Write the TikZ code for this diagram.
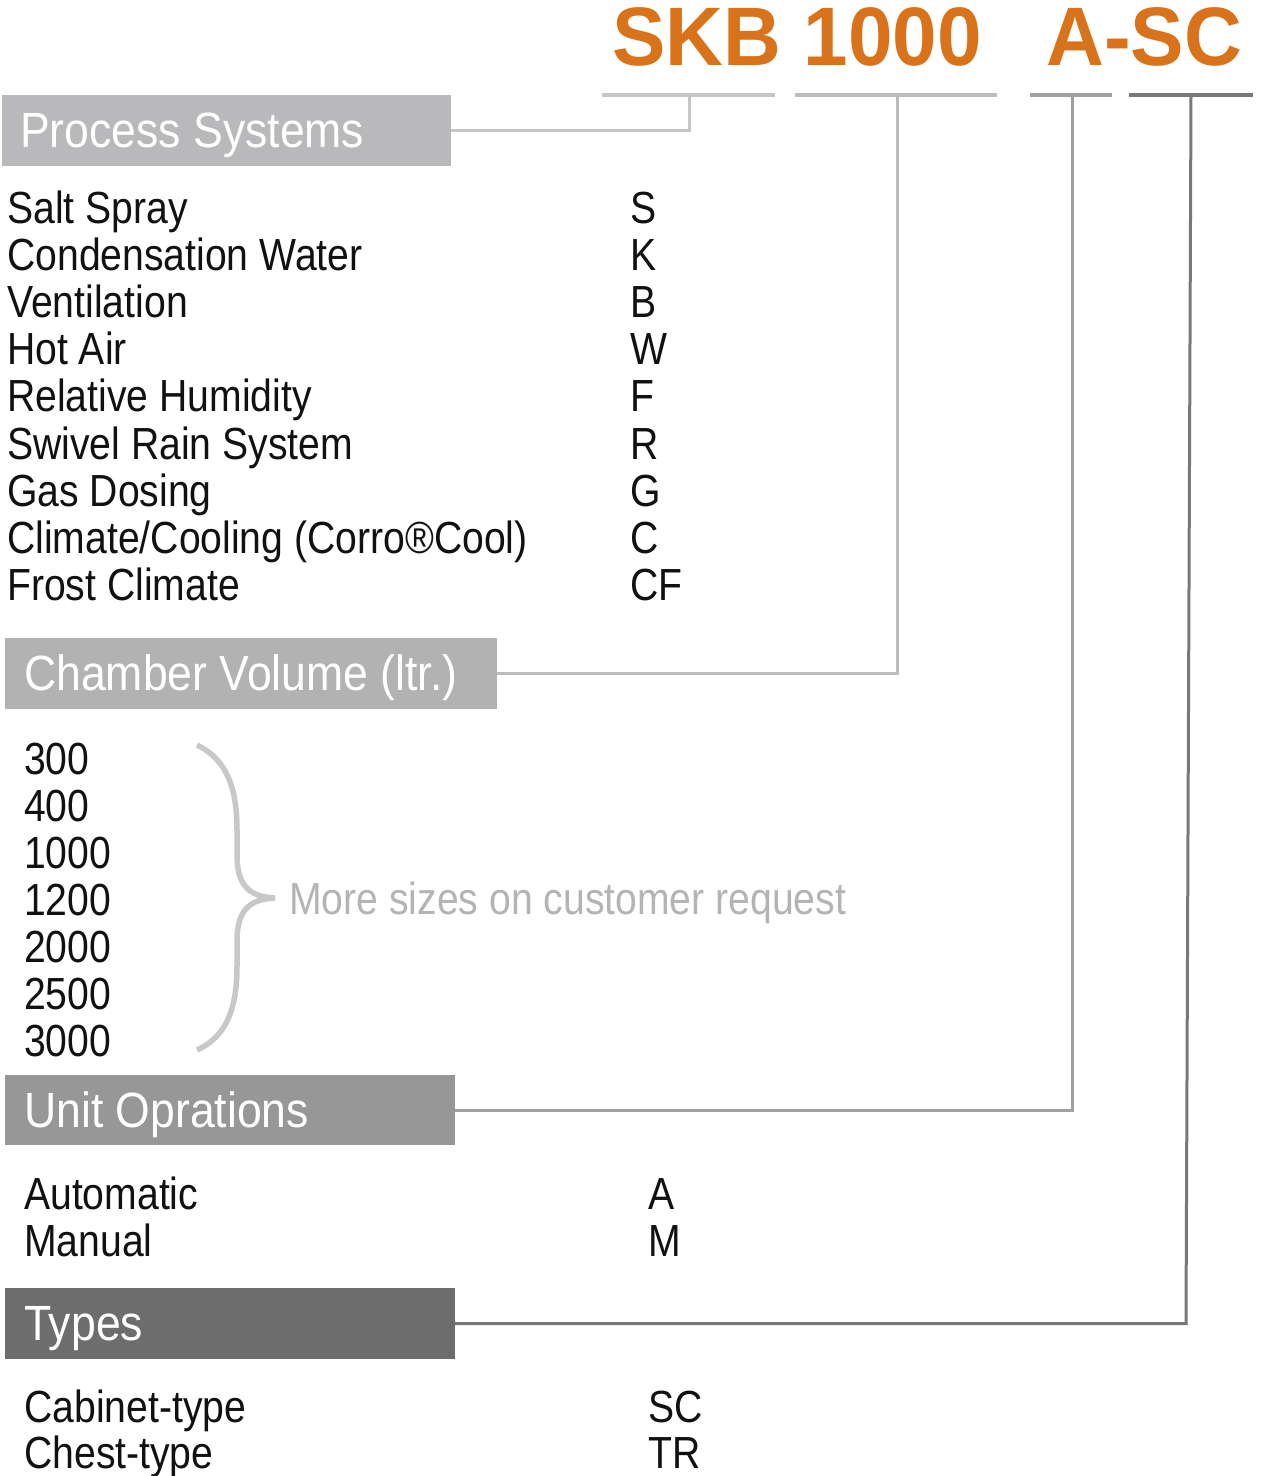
\documentclass[tikz,border=0pt]{standalone}
\usepackage{fontspec}
\setmainfont{Liberation Sans}[FakeStretch=0.87]
\newfontfamily\headfont{Liberation Sans}[FakeStretch=0.965]
\newfontfamily\boxfont{Liberation Sans}[FakeStretch=0.9]
\definecolor{skborange}{HTML}{D9731B}
\definecolor{boxa}{HTML}{B9B9BB}
\definecolor{boxb}{HTML}{B2B2B2}
\definecolor{boxc}{HTML}{979797}
\definecolor{boxd}{HTML}{6D6D6D}
\definecolor{linea}{HTML}{C6C6C6}
\definecolor{lineb}{HTML}{BCBCBC}
\definecolor{linec}{HTML}{A0A0A0}
\definecolor{lined}{HTML}{787878}
\definecolor{bracecol}{HTML}{C8C8C8}
\definecolor{notecol}{HTML}{B4B4B4}
\definecolor{txt}{HTML}{111111}
\tikzset{
  hbox/.style={anchor=north west, inner sep=0pt, outer sep=0pt},
  htext/.style={anchor=base west, inner sep=0pt, text=white, font=\boxfont\fontsize{49.5}{55}\selectfont},
  item/.style={anchor=base west, inner sep=0pt, text=txt, font=\fontsize{45}{50}\selectfont},
  title/.style={anchor=base west, inner sep=0pt, text=skborange, font=\headfont\bfseries\fontsize{83}{86}\selectfont},
  bar/.style={line width=4pt},
  conn/.style={line width=3pt},
}
\begin{document}
\begin{tikzpicture}[x=1pt,y=-1pt]
\useasboundingbox (0,0) rectangle (1270,1476);
% title
\node[title] (t1) at (612,65) {SKB 1000};
\node[title] (t2) at (1046,65) {A-SC};
% bars
\coordinate (b1l) at (602,95); \coordinate (b1r) at (775,95); \coordinate (b1) at (689,95);
\coordinate (b2l) at (795,95); \coordinate (b2r) at (997,95); \coordinate (b2) at (897,95);
\coordinate (b3l) at (1030,95); \coordinate (b3r) at (1112,95); \coordinate (b3) at (1072,95);
\coordinate (b4l) at (1129,95); \coordinate (b4r) at (1253,95); \coordinate (b4) at (1191,95);
\draw[bar, linea] (b1l) -- (b1r);
\draw[bar, lineb] (b2l) -- (b2r);
\draw[bar, linec] (b3l) -- (b3r);
\draw[bar, lined] (b4l) -- (b4r);
% boxes
\node[hbox, fill=boxa, minimum width=449pt, minimum height=71pt] (ps) at (2,95) {};
\node[htext] (pst) at (20,147) {Process Systems};
\node[hbox, fill=boxb, minimum width=492pt, minimum height=71pt] (cv) at (5,638) {};
\node[htext] (cvt) at (24,690) {Chamber Volume (ltr.)};
\node[hbox, fill=boxc, minimum width=450pt, minimum height=70pt] (uo) at (5,1075) {};
\node[htext] (uot) at (24,1127) {Unit Oprations};
\node[hbox, fill=boxd, minimum width=450pt, minimum height=71pt] (ty) at (5,1288) {};
\node[htext] (tyt) at (24,1340) {Types};
% connectors
\draw[conn, linea] (ps.east) -| (b1);
\draw[conn, lineb] (cv.east) -| (b2);
\draw[conn, linec] (uo.east) -| (b3);
\coordinate (c4) at (1186,1323.5);
\draw[conn, lined] (ty.east) -- (c4) -- (b4);
% process list
\node[item] (p1) at (7,223) {Salt Spray};
\node[item] (p2) at (7,270.2) {Condensation Water};
\node[item] (p3) at (7,317.4) {Ventilation};
\node[item] (p4) at (7,364.6) {Hot Air};
\node[item] (p5) at (7,411.8) {Relative Humidity};
\node[item] (p6) at (7,459) {Swivel Rain System};
\node[item] (p7) at (7,506.2) {Gas Dosing};
\node[item] (p8) at (7,553.4) {Climate/Cooling (Corro®Cool)};
\node[item] (p9) at (7,600.6) {Frost Climate};
\node[item] (q1) at (630,223) {S};
\node[item] (q2) at (630,270.2) {K};
\node[item] (q3) at (630,317.4) {B};
\node[item] (q4) at (630,364.6) {W};
\node[item] (q5) at (630,411.8) {F};
\node[item] (q6) at (630,459) {R};
\node[item] (q7) at (630,506.2) {G};
\node[item] (q8) at (630,553.4) {C};
\node[item] (q9) at (630,600.6) {CF};
% volumes
\node[item] (v1) at (24,774) {300};
\node[item] (v2) at (24,821) {400};
\node[item] (v3) at (24,868) {1000};
\node[item] (v4) at (24,915) {1200};
\node[item] (v5) at (24,962) {2000};
\node[item] (v6) at (24,1009) {2500};
\node[item] (v7) at (24,1056) {3000};
\draw[line width=5.5pt, bracecol] (197,745) .. controls (228,760) and (237,790) .. (237,830) -- (237,855) .. controls (237,884) and (248,897) .. (275,898) .. controls (248,899) and (237,912) .. (237,941) -- (237,966) .. controls (237,1006) and (228,1036) .. (197,1050);
\node[item, text=notecol] (more) at (289,914) {More sizes on customer request};
% unit operations
\node[item] (u1) at (24,1209) {Automatic};
\node[item] (u2) at (24,1256) {Manual};
\node[item] (u3) at (648,1209) {A};
\node[item] (u4) at (648,1256) {M};
% types
\node[item] (y1) at (24,1422) {Cabinet-type};
\node[item] (y2) at (24,1468) {Chest-type};
\node[item] (y3) at (648,1422) {SC};
\node[item] (y4) at (648,1468) {TR};
\end{tikzpicture}
\end{document}
